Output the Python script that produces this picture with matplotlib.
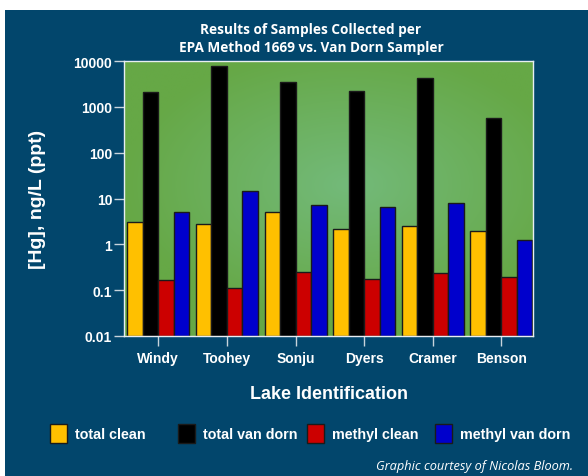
import numpy as np
import matplotlib
matplotlib.use("Agg")
import matplotlib.pyplot as plt
from matplotlib.patches import Rectangle

# данные
lakes = ["Windy", "Toohey", "Sonju", "Dyers", "Cramer", "Benson"]
total_clean = [3.0, 2.7, 5.1, 2.1, 2.55, 1.95]
total_vandorn = [2100, 7800, 3500, 2200, 4350, 580]
methyl_clean = [0.156, 0.101, 0.233, 0.161, 0.222, 0.187]
methyl_vandorn = [5.1, 14.8, 7.2, 6.4, 8.0, 1.24]
series_names = ["total clean", "total van dorn", "methyl clean", "methyl van dorn"]

colors = ["#ffc000", "#000000", "#cc0000", "#0000cc"]
bg = "#02466c"
white = "#ffffff"
W, H = 588, 477

fig = plt.figure(figsize=(5.88, 4.77), dpi=100)
fig.patch.set_facecolor("white")
# тёмно-синяя подложка (белая рамка сверху и слева)
fig.patches.append(Rectangle((5/W, 0), 1 - 5/W, (H - 11)/H,
                             transform=fig.transFigure, facecolor=bg,
                             edgecolor="none", zorder=-10))

ax = fig.add_axes([124/W, 1 - 337/H, (533 - 124)/W, (337 - 62)/H])

# радиальный градиент фона
nx, ny = 300, 200
xx, yy = np.meshgrid(np.linspace(-1, 1, nx), np.linspace(-1, 1, ny))
r = np.clip(np.sqrt(((xx - 0.1) / 1.1) ** 2 + ((yy + 0.1) / 1.0) ** 2), 0, 1)
c_in = np.array([0x73, 0xba, 0x7a]) / 255
c_out = np.array([0x66, 0xa8, 0x46]) / 255
img = c_in[None, None, :] * (1 - r[..., None]) + c_out[None, None, :] * r[..., None]
ax.imshow(img, extent=[0, 1, 0, 1], transform=ax.transAxes, aspect="auto",
          zorder=0, interpolation="bilinear")

x = np.arange(len(lakes))
w = 0.226
all_series = [total_clean, total_vandorn, methyl_clean, methyl_vandorn]
for i, vals in enumerate(all_series):
    ax.bar(x + (i - 1.5) * w, vals, width=w, bottom=0.01, color=colors[i],
           edgecolor="#1a1a1a", linewidth=1, zorder=2)

ax.set_yscale("log")
ax.set_ylim(0.01, 10000)
ax.set_xlim(-0.5, 5.46)
ax.set_yticks([0.01, 0.1, 1, 10, 100, 1000, 10000])
ax.set_yticklabels(["0.01", "0.1", "1", "10", "100", "1000", "10000"])
ax.minorticks_off()
ax.set_xticks(x)
ax.set_xticklabels(lakes)

for s in ax.spines.values():
    s.set_color("#e8eef2")
    s.set_linewidth(1)
ax.tick_params(axis="both", colors="#c8d4dc", length=7, width=1,
               labelcolor=white, labelsize=10)
ax.tick_params(axis="y", pad=1.5)
ax.tick_params(axis="x", pad=4)
for lab in ax.get_xticklabels() + ax.get_yticklabels():
    lab.set_fontfamily("Liberation Sans")
    lab.set_fontweight("bold")

ax.set_ylabel("[Hg], ng/L (ppt)", color=white, fontsize=14, fontweight="bold",
              family="Liberation Sans")
ax.yaxis.set_label_coords(-(124 - 46)/(533 - 124), 0.5)
ax.set_xlabel("Lake Identification", color=white, fontsize=13,
              fontweight="bold", family="Liberation Sans", labelpad=14)

fig.text(311/W, 1 - 39/H,
         "Results of Samples Collected per\nEPA Method 1669 vs. Van Dorn Sampler",
         ha="center", va="center", color=white, fontsize=9.8, fontweight="bold",
         family="Open Sans", linespacing=1.3)

# легенда: фиксированные позиции колонок
for i, name in enumerate(series_names):
    x0 = 50 + 128.3 * i
    fig.patches.append(Rectangle((x0/W, 1 - 444/H), 17/W, 19/H,
                                 transform=fig.transFigure, facecolor=colors[i],
                                 edgecolor="#1a1a1a", linewidth=1))
    fig.text((x0 + 25)/W, 1 - 435/H, name, ha="left", va="center",
             color=white, fontsize=10.3, fontweight="bold",
             family="Liberation Sans")

fig.text(573/W, 1 - 467/H, "Graphic courtesy of Nicolas Bloom.",
         ha="right", va="center", color=white, fontsize=9.2, style="italic",
         family="Open Sans")

fig.savefig("out.png", dpi=100, facecolor=fig.get_facecolor())
